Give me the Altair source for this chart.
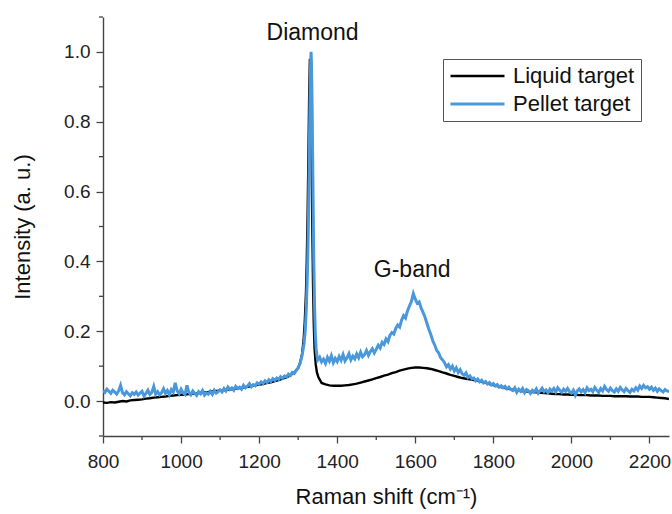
import altair as alt
import pandas as pd

FONT = "Liberation Sans"
AXIS_COLOR = "#444444"

# ---- Liquid target spectrum (normalised intensity) ----
liquid_low_x = list(range(800, 1291, 10))
liquid_low_y = [
    -0.004, -0.005, -0.003, -0.004, -0.002, 0.000, -0.001, 0.002, 0.003, 0.004,
    0.005, 0.007, 0.008, 0.010, 0.011, 0.012, 0.013, 0.015, 0.016, 0.017,
    0.018, 0.019, 0.020, 0.021, 0.022, 0.024, 0.025, 0.026, 0.028, 0.029,
    0.030, 0.031, 0.033, 0.034, 0.036, 0.037, 0.039, 0.041, 0.043, 0.045,
    0.047, 0.049, 0.052, 0.054, 0.057, 0.060, 0.064, 0.068, 0.074, 0.082,
]
liquid_peak_x = [1300, 1305, 1310, 1314, 1317, 1320, 1322, 1324, 1326, 1328, 1330,
                 1332, 1334, 1336, 1338, 1340, 1342, 1345, 1348, 1352, 1356]
liquid_peak_y = [0.095, 0.110, 0.135, 0.175, 0.230, 0.310, 0.400, 0.520, 0.680, 0.860, 0.980,
                 0.930, 0.740, 0.520, 0.340, 0.220, 0.150, 0.105, 0.082, 0.068, 0.060]
liquid_high_x = list(range(1360, 2251, 10))
liquid_high_y = [
    0.052, 0.048, 0.045, 0.044, 0.044, 0.044, 0.045, 0.046, 0.048,
    0.050, 0.053, 0.056, 0.059, 0.062, 0.066, 0.069, 0.073, 0.076, 0.080,
    0.083, 0.087, 0.090, 0.093, 0.095, 0.096, 0.096, 0.095, 0.094, 0.092,
    0.089, 0.086, 0.082, 0.079, 0.075, 0.072, 0.069, 0.066, 0.064, 0.062,
    0.060, 0.058, 0.055, 0.052, 0.049, 0.046, 0.043, 0.040, 0.037, 0.035,
    0.033, 0.031, 0.029, 0.028, 0.027, 0.026, 0.025, 0.024, 0.023, 0.022,
    0.021, 0.020, 0.020, 0.019, 0.019, 0.018, 0.018, 0.017, 0.017, 0.017,
    0.016, 0.016, 0.016, 0.015, 0.015, 0.015, 0.014, 0.014, 0.014, 0.014,
    0.013, 0.013, 0.013, 0.012, 0.012, 0.012, 0.011, 0.010, 0.009, 0.008,
    0.006,
]

# ---- Pellet target spectrum (normalised intensity) ----
pellet_low_x = list(range(800, 1316, 5))
pellet_low_y = [
    0.030, 0.025, 0.034, 0.028, 0.022, 0.031, 0.026, 0.020, 0.029, 0.045,
    0.024, 0.018, 0.027, 0.021, 0.015, 0.024, 0.019, 0.026, 0.017, 0.023,
    0.028, 0.014, 0.022, 0.031, 0.019, 0.025, 0.042, 0.020, 0.027, 0.018,
    0.024, 0.035, 0.022, 0.030, 0.018, 0.033, 0.026, 0.052, 0.029, 0.021,
    0.034, 0.024, 0.019, 0.045, 0.025, 0.018, 0.029, 0.022, 0.016, 0.027,
    0.021, 0.030, 0.017, 0.024, 0.020, 0.028, 0.019, 0.031, 0.023, 0.027,
    0.032, 0.026, 0.036, 0.029, 0.040, 0.033, 0.038, 0.031, 0.042, 0.036,
    0.040, 0.034, 0.045, 0.038, 0.043, 0.050, 0.041, 0.047, 0.044, 0.052,
    0.048, 0.055, 0.050, 0.058, 0.053, 0.061, 0.056, 0.064, 0.059, 0.066,
    0.062, 0.070, 0.065, 0.072, 0.069, 0.077, 0.073, 0.082, 0.079, 0.088,
    0.095, 0.108, 0.130, 0.165,
]
pellet_peak_x = [1318, 1321, 1324, 1326, 1328, 1330, 1332, 1333,
                 1334, 1336, 1338, 1340, 1342, 1344, 1346, 1348]
pellet_peak_y = [0.200, 0.270, 0.380, 0.500, 0.660, 0.840, 0.970, 1.000,
                 0.970, 0.820, 0.600, 0.400, 0.270, 0.190, 0.150, 0.130]
pellet_high_x = list(range(1350, 2251, 5))
pellet_high_y = [
    0.118, 0.126, 0.112, 0.120, 0.108, 0.125, 0.114, 0.130, 0.110, 0.122,
    0.113, 0.128, 0.117, 0.133, 0.115, 0.124, 0.136, 0.118, 0.129, 0.121,
    0.135, 0.124, 0.140, 0.127, 0.133, 0.145, 0.131, 0.142, 0.150, 0.138,
    0.148, 0.160, 0.152, 0.168, 0.162, 0.178, 0.170, 0.188, 0.196, 0.192,
    0.208, 0.218, 0.212, 0.232, 0.245, 0.238, 0.258, 0.272, 0.285, 0.308,
    0.292, 0.280, 0.284, 0.266, 0.254, 0.240, 0.222, 0.205, 0.190, 0.172,
    0.160, 0.145, 0.138, 0.124, 0.118, 0.110, 0.098, 0.104, 0.092, 0.100,
    0.086, 0.095, 0.082, 0.090, 0.078, 0.074, 0.081, 0.068, 0.072, 0.064,
    0.066, 0.058, 0.063, 0.055, 0.060, 0.052, 0.056, 0.049, 0.053, 0.046,
    0.050, 0.043, 0.047, 0.040, 0.044, 0.038, 0.042, 0.035, 0.040, 0.033,
    0.030, 0.038, 0.025, 0.034, 0.028, 0.036, 0.024, 0.033, 0.029, 0.022,
    0.031, 0.026, 0.035, 0.023, 0.030, 0.037, 0.027, 0.032, 0.024, 0.034,
    0.029, 0.036, 0.026, 0.038, 0.031, 0.025, 0.034, 0.028, 0.036, 0.027,
    0.023, 0.031, 0.017, 0.029, 0.035, 0.026, 0.033, 0.024, 0.038, 0.030,
    0.034, 0.027, 0.039, 0.031, 0.025, 0.036, 0.029, 0.042, 0.033, 0.028,
    0.037, 0.030, 0.026, 0.035, 0.028, 0.039, 0.032, 0.027, 0.036, 0.030,
    0.025, 0.034, 0.029, 0.038, 0.031, 0.043, 0.036, 0.045, 0.038, 0.041,
    0.034, 0.040, 0.031, 0.037, 0.028, 0.035, 0.030, 0.026, 0.033, 0.029,
    0.027,
]

series_names = ["Liquid target", "Pellet target"]
series_colors = ["#000000", "#4a98dc"]
series_widths = [2.4, 3.0]

x_ticks = [800, 1000, 1200, 1400, 1600, 1800, 2000, 2200]
x_minor = [900, 1100, 1300, 1500, 1700, 1900, 2100]
y_ticks = [0.0, 0.2, 0.4, 0.6, 0.8, 1.0]
y_minor = [-0.1, 0.1, 0.3, 0.5, 0.7, 0.9, 1.1]

peak_labels = ["Diamond", "G-band"]
peak_label_x = [1337, 1592]
peak_label_y = [1.055, 0.374]

liquid_x = liquid_low_x + liquid_peak_x + liquid_high_x
liquid_y = liquid_low_y + liquid_peak_y + liquid_high_y
pellet_x = pellet_low_x + pellet_peak_x + pellet_high_x
pellet_y = pellet_low_y + pellet_peak_y + pellet_high_y

spectra = pd.concat([
    pd.DataFrame({"shift": liquid_x, "intensity": liquid_y, "sample": series_names[0]}),
    pd.DataFrame({"shift": pellet_x, "intensity": pellet_y, "sample": series_names[1]}),
], ignore_index=True)

W, H = 566, 419

x_scale = alt.Scale(domain=[800, 2250], nice=False, zero=False)
y_scale = alt.Scale(domain=[-0.1, 1.1], nice=False, zero=False)

# the same axis definitions are shared by every layer so that they merge
x_axis = alt.Axis(values=x_ticks, format="d", labelFlush=False,
                  title="Raman shift (cm⁻¹)", titleY=67, titleBaseline="alphabetic")
y_axis = alt.Axis(values=y_ticks, format=".1f", labelFlush=False,
                  title="Intensity (a. u.)",
                  titleX=-74, titleY=H / 2, titleAlign="center",
                  titleBaseline="alphabetic", titleAngle=270)

lines = alt.Chart(spectra).mark_line(clip=True).encode(
    x=alt.X("shift:Q", scale=x_scale, axis=x_axis),
    y=alt.Y("intensity:Q", scale=y_scale, axis=y_axis),
    color=alt.Color("sample:N",
                    scale=alt.Scale(domain=series_names, range=series_colors),
                    legend=alt.Legend(title=None, orient="none", legendX=340, legendY=42,
                                      symbolType="stroke", symbolSize=2916,
                                      symbolStrokeWidth=2.5, clipHeight=22,
                                      labelFontSize=22, labelFont=FONT, labelColor="#111111",
                                      labelOffset=7, rowPadding=6, padding=6,
                                      strokeColor="#555555", fillColor="#ffffff")),
    strokeWidth=alt.StrokeWidth("sample:N",
                                scale=alt.Scale(domain=series_names, range=series_widths),
                                legend=None),
)

# minor ticks on the bottom axis
minor_x_ticks = alt.Chart(pd.DataFrame({"shift": x_minor})).mark_rule(
    color=AXIS_COLOR, strokeWidth=1.3
).encode(
    x=alt.X("shift:Q", scale=x_scale, axis=x_axis),
    y=alt.value(H),
    y2=alt.value(H + 4),
)

# minor ticks on the left axis
minor_y_ticks = alt.Chart(pd.DataFrame({"intensity": y_minor})).mark_rule(
    color=AXIS_COLOR, strokeWidth=1.3
).encode(
    y=alt.Y("intensity:Q", scale=y_scale, axis=y_axis),
    x=alt.value(0),
    x2=alt.value(-4),
)

annotations = alt.Chart(pd.DataFrame({
    "label": peak_labels, "shift": peak_label_x, "intensity": peak_label_y,
})).mark_text(font=FONT, fontSize=23, color="#111111", baseline="middle").encode(
    x=alt.X("shift:Q", scale=x_scale, axis=x_axis),
    y=alt.Y("intensity:Q", scale=y_scale, axis=y_axis),
    text="label:N",
)

chart = alt.layer(lines, minor_x_ticks, minor_y_ticks, annotations).properties(
    width=W, height=H,
    autosize=alt.AutoSizeParams(type="none"),
    padding={"left": 103, "top": 17, "right": 3, "bottom": 78},
).configure_view(stroke=None).configure_axis(
    grid=False,
    domainColor=AXIS_COLOR, domainWidth=1.4,
    tickColor=AXIS_COLOR, tickWidth=1.3, tickSize=7,
    labelFont=FONT, labelFontSize=19, labelColor="#222222",
    titleFont=FONT, titleFontSize=22, titleColor="#111111", titleFontWeight="normal",
).configure_axisX(labelPadding=9).configure_axisY(labelPadding=6)

chart.save("out.html", embed_options={"renderer": "svg", "actions": False})
